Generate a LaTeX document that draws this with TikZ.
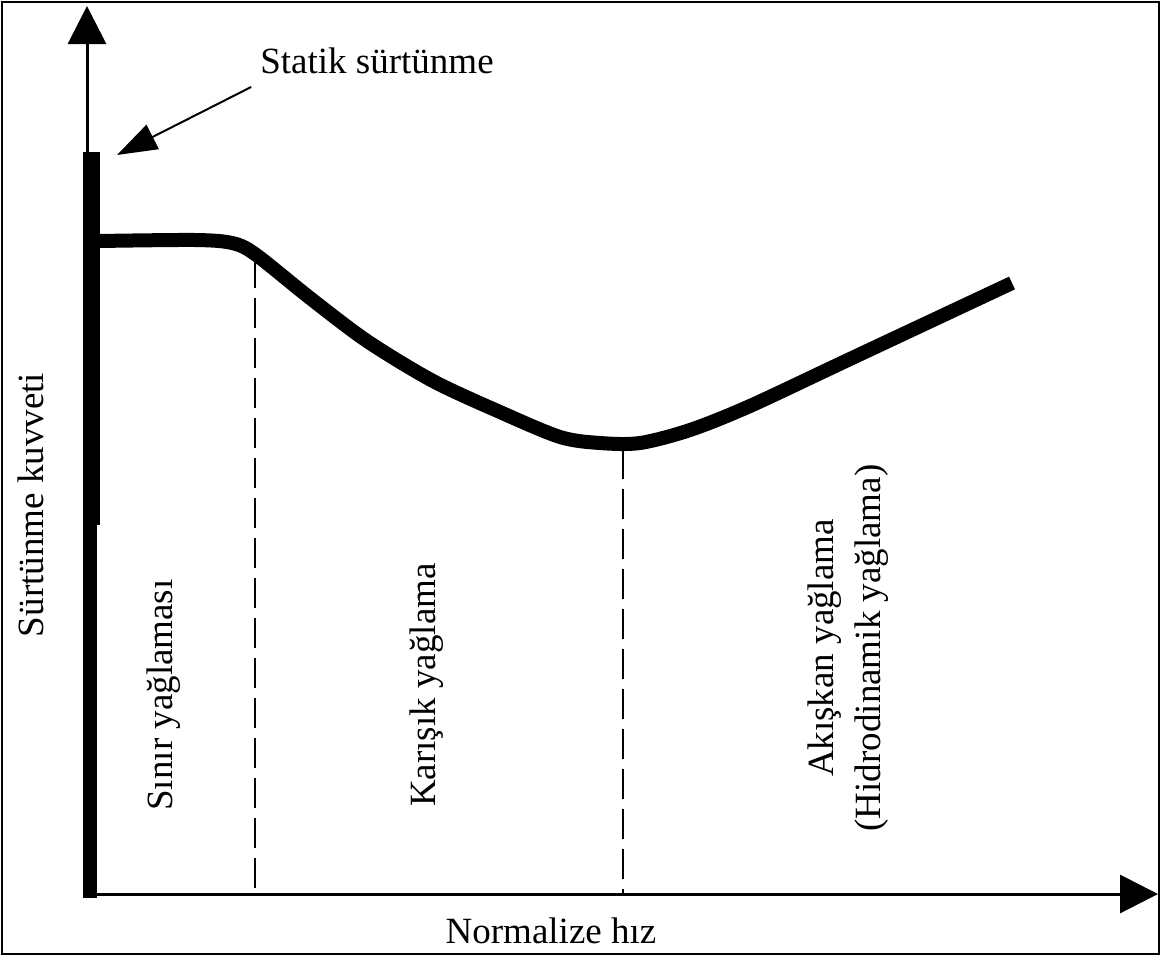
\documentclass[tikz,border=0pt]{standalone}
\usepackage{fontspec}
\setmainfont{Liberation Serif}
\usetikzlibrary{arrows.meta, calc, positioning}
\tikzset{
  axis/.style = {line width=3pt, -{Triangle[length=38pt, width=38pt]}},
  pointer/.style = {line width=2pt, -{Triangle[length=40pt, width=27pt]}},
  boundary/.style = {line width=2.5pt, dash pattern=on 30pt off 10pt},
  friction/.style = {line width=14pt, line join=round}
}

\begin{document}
\begin{tikzpicture}[x=1pt, y=-1pt]
      \useasboundingbox (0,0) rectangle (1161,956);
      \draw[line width=2.5pt] (2,2) rectangle (1159,954);
      % axes
      \coordinate (O) at (87,894);
      \coordinate (ytop) at (87,6);
      \coordinate (xend) at (1158,894);
      \draw[axis] (O) -- (ytop);
      \draw[axis] (O) -- (xend);
      % static friction
      \fill (83,152) rectangle (100,525);
      \fill (83,525) rectangle (97,898);
      \coordinate (stattip) at (117,155);
      % friction curve
      \draw[friction] plot[smooth, tension=0.5] coordinates {
        (99,241) (195,240) (232,243) (255,254) (310,298) (367,341) (433,381)
        (500,412) (560,437) (600,443) (640,443) (690,430) (750,406)
        (850,359) (1012,283)};
      \coordinate (B1) at (255,258);
      \coordinate (B2) at (623,449);
      \draw[boundary] (B1) -- (B1 |- O);
      \draw[boundary] (B2) -- (B2 |- O);
      \begin{scope}[every node/.style = {font=\fontsize{37}{47}\selectfont, inner sep=0pt}]
        \node[anchor=base] (statik) at (377,73) {Statik sürtünme};
        \node[anchor=base] (xlab) at (551,943) {Normalize hız};
        \node[anchor=base, rotate=90] (ylab) at (43,505) {Sürtünme kuvveti};
        \node[anchor=base, rotate=90] (sinir) at (172,695) {Sınır yağlaması};
        \node[anchor=base, rotate=90] (karisik) at (435,685) {Karışık yağlama};
        \node[anchor=center, rotate=90, align=center] (akiskan) at (848,648)
          {Akışkan yağlama\\(Hidrodinamik yağlama)};
      \end{scope}
      \draw[pointer] ([shift={(-9,14)}]statik.base west) -- (stattip);
    \end{tikzpicture}
\end{document}
